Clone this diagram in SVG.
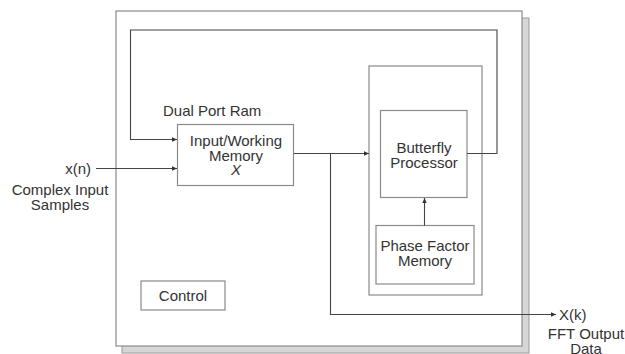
<svg xmlns="http://www.w3.org/2000/svg" width="625" height="354" viewBox="0 0 625 354">
<style>
.box{fill:#fff;stroke:#8a8a8a;stroke-width:1.2}
.wire{fill:none;stroke:#444;stroke-width:1.1}
text{font-family:"Liberation Sans",Arial,sans-serif;font-size:15px;fill:#333}
.m{text-anchor:middle}
</style>
<defs>
<marker id="ah" markerWidth="6" markerHeight="6" refX="5" refY="3" orient="auto" markerUnits="userSpaceOnUse">
<path d="M0,0.8 L5,3 L0,5.2 Z" fill="#333"/>
</marker>
</defs>
<g id="chip">
<rect x="122" y="18" width="407" height="335" fill="#d6d6d6" stroke="#999" stroke-width="1"/>
<rect x="116" y="11" width="406" height="335" class="box"/>
</g>
<g id="processor-frame">
<rect x="369" y="66" width="113" height="229" class="box"/>
</g>
<g id="memory">
<rect x="177.5" y="124.5" width="116" height="61" class="box"/>
<text x="163" y="116">Dual Port Ram</text>
<text class="m" x="236" y="146">Input/Working</text>
<text class="m" x="236" y="161">Memory</text>
<text class="m" x="236" y="175" font-style="italic">X</text>
</g>
<g id="butterfly">
<rect x="380.5" y="110.5" width="86.5" height="87" class="box"/>
<text class="m" x="424" y="153">Butterfly</text>
<text class="m" x="424" y="168">Processor</text>
</g>
<g id="phase">
<rect x="376" y="225.5" width="98" height="58.5" class="box"/>
<text class="m" x="425" y="251">Phase Factor</text>
<text class="m" x="425" y="266">Memory</text>
</g>
<g id="control">
<rect x="141" y="281" width="84" height="29" class="box"/>
<text class="m" x="183" y="301">Control</text>
</g>
<g id="input-label">
<text x="91" y="174" text-anchor="end">x(n)</text>
<text class="m" x="60" y="195">Complex Input</text>
<text class="m" x="60" y="210">Samples</text>
</g>
<g id="output-label">
<text x="559" y="320">X(k)</text>
<text class="m" x="586" y="339">FFT Output</text>
<text class="m" x="586" y="354">Data</text>
</g>
<g id="connectors">
<path class="wire" d="M467,153.5 H497 V30 H130.5 V139.5 H177" marker-end="url(#ah)"/>
<path class="wire" d="M96,168.5 H177" marker-end="url(#ah)"/>
<path class="wire" d="M294,153.5 H369" marker-end="url(#ah)"/>
<path class="wire" d="M330.5,153.5 V314.5 H556" marker-end="url(#ah)"/>
<path class="wire" d="M424.5,225.5 V198" marker-end="url(#ah)"/>
</g>
</svg>
